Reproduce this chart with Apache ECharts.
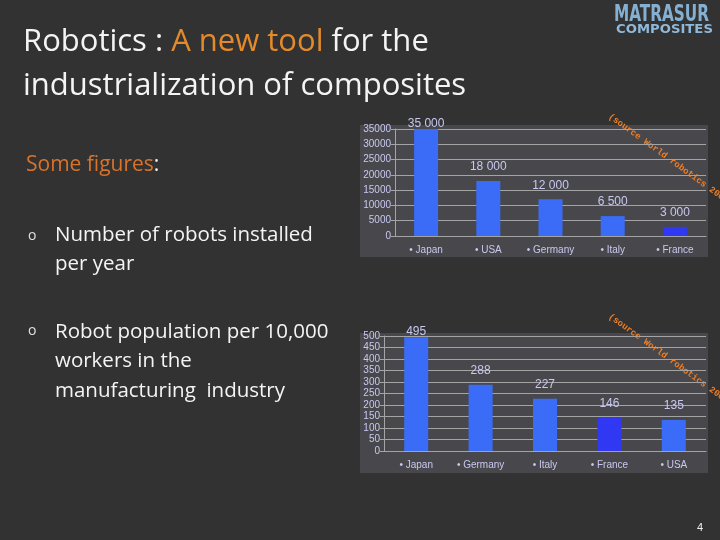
<!DOCTYPE html>
<html>
<head>
<meta charset="utf-8">
<script src="https://cdn.jsdelivr.net/npm/echarts@6/dist/echarts.min.js"></script>
<style>
  html, body { margin: 0; padding: 0; background: #323232; }
  #chart { width: 720px; height: 540px; }
</style>
</head>
<body>
<div id="chart"></div>
<script>
// robots installed per year
var installCats = ['Japan', 'USA', 'Germany', 'Italy', 'France']
var installVals = [35000, 18000, 12000, 6500, 3000]
// robots per 10 000 workers
var densityCats = ['Japan', 'Germany', 'Italy', 'France', 'USA']
var densityVals = [495, 288, 227, 146, 135]

var labelColor = '#c8c8f0'
var gridColor = '#a4a4a4'

function barColor(p) {
  return p.name === 'France' ? '#3038f4' : '#3a6cf8'
}
function spaced(v) {
  return String(v).replace(/\B(?=(\d{3})+(?!\d))/g, ' ')
}

function xAxisOf(idx, cats) {
  return {
    type: 'category',
    gridIndex: idx,
    data: cats,
    axisLine: { lineStyle: { color: gridColor } },
    axisTick: { lineStyle: { color: gridColor }, length: 4 },
    axisLabel: {
      color: labelColor,
      fontSize: 10,
      fontFamily: 'Liberation Sans',
      margin: 9,
      formatter: function (v) { return '• ' + v }
    }
  }
}
function yAxisOf(idx, max, step) {
  return {
    type: 'value',
    gridIndex: idx,
    min: 0,
    max: max,
    interval: step,
    axisLine: { show: true, lineStyle: { color: gridColor } },
    axisTick: { show: true, length: 4, lineStyle: { color: gridColor } },
    axisLabel: {
      color: labelColor, fontSize: 10, fontFamily: 'Liberation Sans', margin: 4,
      formatter: function (v) { return String(v) }
    },
    splitLine: { lineStyle: { color: gridColor, width: 1 } }
  }
}
function barSeries(idx, vals) {
  var top = Math.max.apply(null, vals)
  return {
    type: 'bar',
    xAxisIndex: idx,
    yAxisIndex: idx,
    // the tallest label sits right on its bar in the original
    data: vals.map(function (v) {
      return v === top ? { value: v, label: { distance: -1 } } : v
    }),
    barWidth: 24,
    itemStyle: { color: barColor },
    label: {
      show: true,
      position: 'top',
      distance: 8,
      color: labelColor,
      fontSize: 12,
      fontFamily: 'Liberation Sans',
      formatter: function (p) { return spaced(p.value) }
    }
  }
}

var chart = echarts.init(document.getElementById('chart'))
chart.setOption({
  backgroundColor: '#323232',
  animation: false,
  grid: [
    { left: 395, right: 14, top: 129, bottom: 304 },
    { left: 384, right: 14, top: 336, bottom: 89 }
  ],
  xAxis: [xAxisOf(0, installCats), xAxisOf(1, densityCats)],
  yAxis: [yAxisOf(0, 35000, 5000), yAxisOf(1, 500, 50)],
  series: [barSeries(0, installVals), barSeries(1, densityVals)],
  graphic: [
    // chart panels
    { type: 'rect', z: -10, shape: { x: 360, y: 125, width: 348, height: 132 }, style: { fill: '#48484c' } },
    { type: 'rect', z: -10, shape: { x: 360, y: 333, width: 348, height: 140 }, style: { fill: '#48484c' } },
    // title
    {
      type: 'text', x: 23, y: 20,
      style: {
        text: '{w|Robotics : }{o|A new tool}{w| for the}\n{w|industrialization of composites}',
        rich: {
          w: { fill: '#f4f4f4', fontSize: 31, fontFamily: 'Open Sans', lineHeight: 44 },
          o: { fill: '#e38a2c', fontSize: 31, fontFamily: 'Open Sans', lineHeight: 44 }
        }
      }
    },
    // logo
    {
      type: 'text', x: 614, y: 4, scaleY: 1.35,
      style: { text: 'MATRASUR', fill: '#86b0d2', fontSize: 17, fontWeight: 'bold', fontFamily: 'DejaVu Sans Condensed' }
    },
    {
      type: 'text', x: 616, y: 24, scaleX: 1.1,
      style: { text: 'COMPOSITES', fill: '#8fb8da', fontSize: 12, fontWeight: 'bold', fontFamily: 'DejaVu Sans' }
    },
    // left text
    {
      type: 'text', x: 26, y: 155,
      style: {
        text: '{o|Some figures}{w|:}',
        rich: {
          o: { fill: '#d9732a', fontSize: 21, fontFamily: 'Open Sans' },
          w: { fill: '#f0f0f0', fontSize: 21, fontFamily: 'Open Sans' }
        }
      }
    },
    { type: 'text', x: 28, y: 229, style: { text: 'o', fill: '#e0e0e0', fontSize: 14, fontFamily: 'Open Sans' } },
    {
      type: 'text', x: 55, y: 221,
      style: { text: 'Number of robots installed\nper year', fill: '#f4f4f4', fontSize: 20.5, fontFamily: 'Open Sans', lineHeight: 29 }
    },
    { type: 'text', x: 28, y: 324, style: { text: 'o', fill: '#e0e0e0', fontSize: 14, fontFamily: 'Open Sans' } },
    {
      type: 'text', x: 55, y: 317,
      style: { text: 'Robot population per 10,000\nworkers in the\nmanufacturing  industry', fill: '#f4f4f4', fontSize: 20.5, fontFamily: 'Open Sans', lineHeight: 29.5 }
    },
    // sources
    {
      type: 'text', x: 612, y: 112, rotation: -36 * Math.PI / 180,
      style: { text: '(source World robotics 2007)', fill: '#f07f26', fontSize: 9, fontWeight: 'bold', fontFamily: 'Liberation Mono' }
    },
    {
      type: 'text', x: 612, y: 312, rotation: -36 * Math.PI / 180,
      style: { text: '(source World robotics 2007)', fill: '#f07f26', fontSize: 9, fontWeight: 'bold', fontFamily: 'Liberation Mono' }
    },
    // page number
    { type: 'text', x: 697, y: 522, style: { text: '4', fill: '#f0f0f0', fontSize: 11, fontFamily: 'Liberation Sans' } }
  ]
})
</script>
</body>
</html>
